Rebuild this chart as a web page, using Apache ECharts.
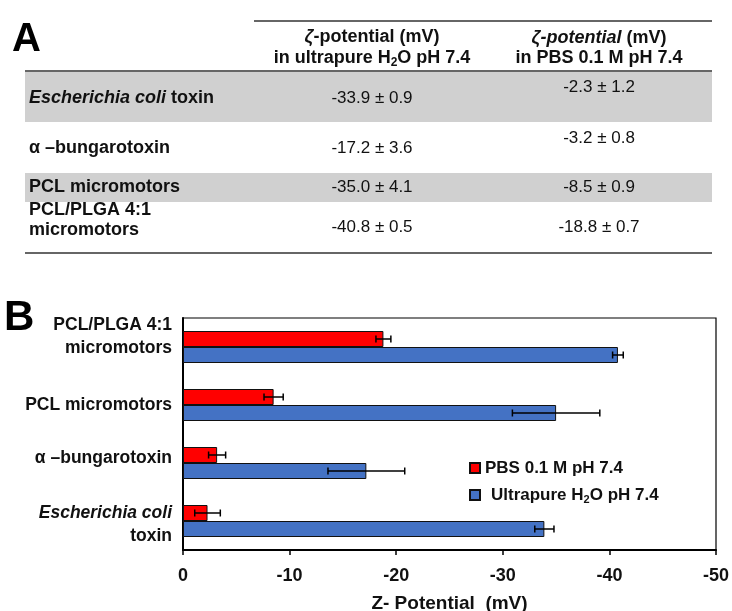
<!DOCTYPE html>
<html><head><meta charset="utf-8">
<script src="https://cdn.jsdelivr.net/npm/echarts@6/dist/echarts.min.js"></script>
<style>html,body{margin:0;padding:0;background:#fff}#c{width:732px;height:611px}</style>
</head><body><div id="c"></div>
<script>
// ---- data ----
const categories = ['Escherichia coli toxin', 'α –bungarotoxin', 'PCL micromotors', 'PCL/PLGA 4:1 micromotors'];
const h2oMean = [-33.9, -17.2, -35.0, -40.8];
const h2oErr = [0.9, 3.6, 4.1, 0.5];
const pbsMean = [-2.3, -3.2, -8.5, -18.8];
const pbsErr = [1.2, 0.8, 0.9, 0.7];
const xTicks = [0, -10, -20, -30, -40, -50];
const seriesNames = ['PBS 0.1 M pH 7.4', 'Ultrapure H2O pH 7.4'];

const FF = '"Liberation Sans", Arial, sans-serif';
const chart = echarts.init(document.getElementById('c'), null, {renderer: 'canvas'});

// ---- table (part A) built from the same arrays ----
const fmt = (m, e) => m.toFixed(1) + ' ± ' + e.toFixed(1);
const tableLabel = [
  '{i|Escherichia coli}{b| toxin}',
  '{b|α –bungarotoxin}',
  '{b|PCL micromotors}',
  '{b|PCL/PLGA 4:1}\n{b|micromotors}'
];
const rowLabelY = [98, 148, 187, 220];
const rowH2oY = [98, 148, 187, 227];
const rowPbsY = [87, 138, 187, 227];
const colX = [29, 372, 599];
const richTab = {
  b: {fontFamily: FF, fontWeight: 'bold', fontSize: 18, lineHeight: 20, fill: '#111'},
  i: {fontFamily: FF, fontWeight: 'bold', fontStyle: 'italic', fontSize: 18, lineHeight: 20, fill: '#111'},
  zi: {fontFamily: FF, fontWeight: 'bold', fontStyle: 'italic', fontSize: 18, lineHeight: 20, fill: '#111'},
  h: {fontFamily: FF, fontWeight: 'bold', fontSize: 18, lineHeight: 20, fill: '#111'},
  s: {fontFamily: FF, fontWeight: 'bold', fontSize: 12, lineHeight: 21, verticalAlign: 'bottom', fill: '#111'}
};
const graphics = [];
graphics.push({type: 'rect', z: 0, shape: {x: 25, y: 72, width: 687, height: 50}, style: {fill: '#d0d0d0'}});
graphics.push({type: 'rect', z: 0, shape: {x: 25, y: 173, width: 687, height: 29}, style: {fill: '#d0d0d0'}});
graphics.push({type: 'line', z: 1, shape: {x1: 254, y1: 21, x2: 712, y2: 21}, style: {stroke: '#333', lineWidth: 1.5}});
graphics.push({type: 'line', z: 1, shape: {x1: 25, y1: 71, x2: 712, y2: 71}, style: {stroke: '#333', lineWidth: 1.5}});
graphics.push({type: 'line', z: 1, shape: {x1: 25, y1: 253, x2: 712, y2: 253}, style: {stroke: '#333', lineWidth: 1.5}});
graphics.push({type: 'text', z: 2, x: 12, y: 40, style: {text: 'A', fontFamily: FF, fontWeight: 'bold', fontSize: 40, fill: '#000', align: 'left', verticalAlign: 'middle'}});
graphics.push({type: 'text', z: 2, x: 4, y: 318, style: {text: 'B', fontFamily: FF, fontWeight: 'bold', fontSize: 42, fill: '#000', align: 'left', verticalAlign: 'middle'}});
graphics.push({type: 'text', z: 2, x: colX[1], y: 48, style: {text: '{zi|ζ}{h|-potential (mV)}\n{h|in ultrapure H}{s|2}{h|O pH 7.4}', rich: richTab, align: 'center', verticalAlign: 'middle'}});
graphics.push({type: 'text', z: 2, x: colX[2], y: 48, style: {text: '{zi|ζ-potential}{h| (mV)}\n{h|in PBS 0.1 M pH 7.4}', rich: richTab, align: 'center', verticalAlign: 'middle'}});
for (let i = 0; i < categories.length; i++) {
  graphics.push({type: 'text', z: 2, x: colX[0], y: rowLabelY[i], style: {text: tableLabel[i], rich: richTab, align: 'left', verticalAlign: 'middle'}});
  graphics.push({type: 'text', z: 2, x: colX[1], y: rowH2oY[i], style: {text: fmt(h2oMean[i], h2oErr[i]), fontFamily: FF, fontSize: 17, fill: '#111', align: 'center', verticalAlign: 'middle'}});
  graphics.push({type: 'text', z: 2, x: colX[2], y: rowPbsY[i], style: {text: fmt(pbsMean[i], pbsErr[i]), fontFamily: FF, fontSize: 17, fill: '#111', align: 'center', verticalAlign: 'middle'}});
}

// ---- chart (part B) ----
const BAR_W = 16;
function errData(mean, err) { return mean.map((m, i) => [m - err[i], m + err[i], i]); }
function errRender(offset) {
  return function (params, api) {
    const lo = api.coord([api.value(0), api.value(2)]);
    const hi = api.coord([api.value(1), api.value(2)]);
    const y = lo[1] + offset;
    const h = 3.5;
    const st = {stroke: '#000', lineWidth: 1.5};
    return {type: 'group', children: [
      {type: 'line', shape: {x1: lo[0], y1: y, x2: hi[0], y2: y}, style: st},
      {type: 'line', shape: {x1: lo[0], y1: y - h, x2: lo[0], y2: y + h}, style: st},
      {type: 'line', shape: {x1: hi[0], y1: y - h, x2: hi[0], y2: y + h}, style: st}
    ]};
  };
}
const yLabelRich = {
  b: {fontFamily: FF, fontWeight: 'bold', fontSize: 17.5, lineHeight: 23, color: '#111', align: 'right'},
  i: {fontFamily: FF, fontWeight: 'bold', fontStyle: 'italic', fontSize: 17.5, lineHeight: 23, color: '#111', align: 'right'},
  e8: {fontSize: 1, lineHeight: 8, align: 'right'},
  e10: {fontSize: 1, lineHeight: 10, align: 'right'},
  e20: {fontSize: 1, lineHeight: 20, align: 'right'}
};
const yLabelMap = {
  'Escherichia coli toxin': '{e8| }\n{i|Escherichia coli}\n{b|toxin}',
  'α –bungarotoxin': '{b|α –bungarotoxin}\n{e10| }',
  'PCL micromotors': '{b|PCL micromotors}',
  'PCL/PLGA 4:1 micromotors': '{b|PCL/PLGA 4:1}\n{b|micromotors}\n{e20| }'
};

const option = {
  animation: false,
  backgroundColor: '#fff',
  textStyle: {fontFamily: FF},
  graphic: {elements: graphics},
  grid: {left: 183, right: 16, top: 318, bottom: 61, show: true, borderColor: '#000', borderWidth: 1.2,
         containLabel: false, outerBoundsMode: 'none'},
  legend: {
    left: 469, top: 458, orient: 'vertical', itemWidth: 10, itemHeight: 10, itemGap: 7, padding: 0,
    icon: 'rect',
    data: seriesNames,
    textStyle: {fontFamily: FF, fontWeight: 'bold', fontSize: 17, color: '#111', lineHeight: 20,
      rich: {
        t: {fontFamily: FF, fontWeight: 'bold', fontSize: 17, color: '#111', lineHeight: 20},
        u: {fontFamily: FF, fontWeight: 'bold', fontSize: 17, color: '#111', lineHeight: 20, padding: [0, 0, 0, 6]},
        s: {fontFamily: FF, fontWeight: 'bold', fontSize: 11, color: '#111', lineHeight: 20, verticalAlign: 'bottom'}
      }},
    formatter: function (name) {
      return name === seriesNames[0] ? '{t|PBS 0.1 M pH 7.4}' : '{u|Ultrapure H}{s|2}{t|O pH 7.4}';
    }
  },
  xAxis: {
    type: 'value', inverse: true,
    min: Math.min(...xTicks), max: Math.max(...xTicks), interval: 10,
    name: 'Z- Potential  (mV)', nameLocation: 'middle', nameGap: 44,
    nameTextStyle: {fontFamily: FF, fontWeight: 'bold', fontSize: 19, color: '#111'},
    axisLine: {show: true, lineStyle: {color: '#000', width: 2}},
    axisTick: {show: true, length: 5, inside: false, lineStyle: {color: '#000', width: 1.5}},
    axisLabel: {fontFamily: FF, fontWeight: 'bold', fontSize: 18, color: '#111', margin: 17},
    splitLine: {show: false}
  },
  yAxis: {
    type: 'category', data: categories,
    axisLine: {show: true, lineStyle: {color: '#000', width: 2}},
    axisTick: {show: false},
    axisLabel: {margin: 11, rich: yLabelRich, formatter: v => yLabelMap[v]},
    splitLine: {show: false}
  },
  series: [
    {name: seriesNames[0], type: 'bar', data: pbsMean, barWidth: BAR_W, barGap: '0%',
     itemStyle: {color: '#ff0000', borderColor: '#111', borderWidth: 1}},
    {name: seriesNames[1], type: 'bar', data: h2oMean, barWidth: BAR_W, barGap: '0%',
     itemStyle: {color: '#4472c4', borderColor: '#111', borderWidth: 1}},
    {name: 'errPBS', type: 'custom', data: errData(pbsMean, pbsErr), encode: {x: [0, 1], y: 2},
     renderItem: errRender(-BAR_W / 2), z: 5, silent: true},
    {name: 'errH2O', type: 'custom', data: errData(h2oMean, h2oErr), encode: {x: [0, 1], y: 2},
     renderItem: errRender(BAR_W / 2), z: 5, silent: true}
  ]
};
chart.setOption(option);
</script>
</body></html>
